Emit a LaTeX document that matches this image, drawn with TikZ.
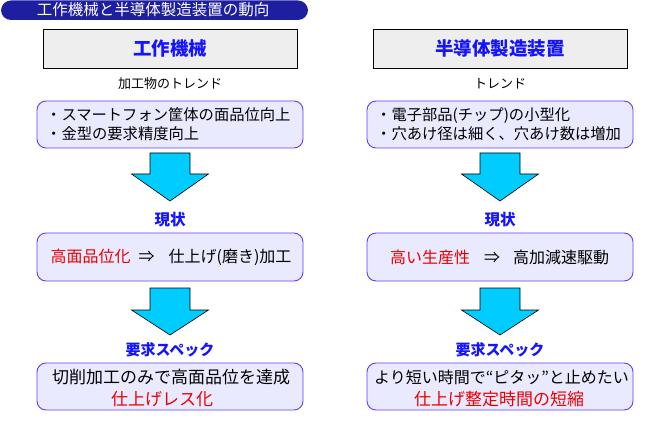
\documentclass[tikz,border=0pt]{standalone}
\usepackage{fontspec}
\setmainfont{Noto Sans CJK JP}
\definecolor{navy}{RGB}{30,30,160}
\definecolor{headblue}{RGB}{20,20,255}
\definecolor{boxfill}{RGB}{234,234,255}
\definecolor{boxline}{RGB}{100,60,255}
\definecolor{arrowcyan}{RGB}{0,204,255}
\definecolor{hdrgray}{RGB}{238,238,238}
\definecolor{redtxt}{RGB}{235,0,0}
\newcommand{\fs}[1]{\fontsize{#1}{#1}\selectfont}
\tikzset{
  x=1pt, y=-1pt,
  titlepill/.style={fill=navy, rounded corners=10pt},
  hdrbox/.style={draw=black, fill=hdrgray, line width=0.8pt, minimum width=254pt, minimum height=39pt, inner sep=0pt},
  hdrtext/.style={text=headblue, font=\fs{18.5}\bfseries, inner sep=0pt},
  smalllabel/.style={font=\fs{13}, inner sep=0pt},
  roundbox/.style={draw=boxline, fill=boxfill, line width=0.9pt, rounded corners=9pt, minimum width=266pt, inner sep=0pt},
  bluelabel/.style={text=headblue, font=\fs{15.5}\bfseries, inner sep=0pt},
  downarrow/.style={draw=black, fill=arrowcyan, line width=0.6pt, line join=miter},
  redword/.style={text=redtxt},
}
\begin{document}
\begin{tikzpicture}
\useasboundingbox (0,0) rectangle (660,427);
% title
\fill[titlepill] (1,0.5) rectangle (308,20);
\node[text=white, font=\fs{15.5}, inner sep=0pt] (title) at (153,10) {工作機械と半導体製造装置の動向};

% ---------------- left column
\node[hdrbox] (hL) at (170,48.5) {};
\node[hdrtext] (hLt) at (170,48) {工作機械};
\node[smalllabel] (tL) at (170,84) {加工物のトレンド};
\node[roundbox, minimum height=47pt] (trL) at (170,124.5) {};
\node[anchor=west, align=left, font=\fontsize{15.3}{19}\selectfont, inner sep=0pt] (trLt) at (46,124.5)
  {・スマートフォン筐体の面品位向上\\・金型の要求精度向上};
\draw[downarrow] (150,153) -- (190,153) -- (190,174) -- (208.5,174) -- (170,201) -- (131.5,174) -- (150,174) -- cycle;
\node[bluelabel] (gL) at (170,220) {現状};
\node[roundbox, minimum height=48pt] (cuL) at (170,257) {};
\node[font=\fs{16}, inner sep=0pt] (cuLt) at (171,257)
  {\textcolor{redtxt}{高面品位化}\hspace{8pt}⇒\hspace{14pt}仕上げ(磨き)加工};
\draw[downarrow] (150,288) -- (190,288) -- (190,310) -- (208.5,310) -- (170,335) -- (131.5,310) -- (150,310) -- cycle;
\node[bluelabel, font=\fs{15}\bfseries] (sL) at (170,350) {要求スペック};
\node[roundbox, minimum height=47pt] (spL) at (170,386.5) {};
\node[font=\fs{17}, inner sep=0pt] (spL1) at (171,377) {切削加工のみで高面品位を達成};
\node[font=\fs{17}, inner sep=0pt, redword] (spL2) at (162,399) {仕上げレス化};

% ---------------- right column
\node[hdrbox] (hR) at (500,48.5) {};
\node[hdrtext] (hRt) at (500,48) {半導体製造装置};
\node[smalllabel] (tR) at (500,84) {トレンド};
\node[roundbox, minimum height=47pt] (trR) at (500,124.5) {};
\node[anchor=west, align=left, font=\fontsize{15.3}{19}\selectfont, inner sep=0pt] (trRt) at (376,124.5)
  {・電子部品(チップ)の小型化\\・穴あけ径は細く、穴あけ数は増加};
\draw[downarrow] (480,153) -- (520,153) -- (520,174) -- (538.5,174) -- (500,201) -- (461.5,174) -- (480,174) -- cycle;
\node[bluelabel] (gR) at (500,220) {現状};
\node[roundbox, minimum height=48pt] (cuR) at (500,257) {};
\node[font=\fs{16}, inner sep=0pt] (cuRt) at (499.5,257)
  {\textcolor{redtxt}{高い生産性}\hspace{14pt}⇒\hspace{13pt}高加減速駆動};
\draw[downarrow] (480,288) -- (520,288) -- (520,310) -- (538.5,310) -- (500,335) -- (461.5,310) -- (480,310) -- cycle;
\node[bluelabel, font=\fs{15}\bfseries] (sR) at (500,350) {要求スペック};
\node[roundbox, minimum height=47pt] (spR) at (500,386.5) {};
\node[font=\fs{16}, inner sep=0pt] (spR1) at (501.5,377) {より短い時間で“ピタッ”と止めたい};
\node[font=\fs{17}, inner sep=0pt, redword] (spR2) at (499,399) {仕上げ整定時間の短縮};
\end{tikzpicture}
\end{document}
